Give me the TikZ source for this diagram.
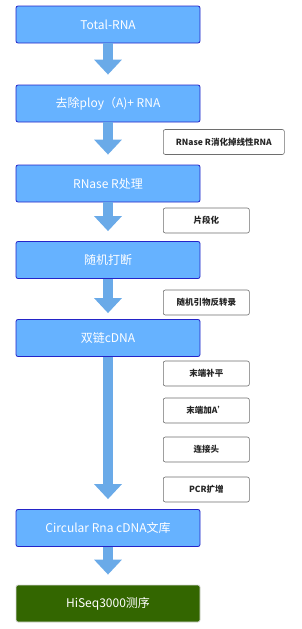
\documentclass[tikz,border=0pt]{standalone}
\usepackage{fontspec}
\setmainfont{Noto Sans CJK SC}
\usetikzlibrary{positioning, arrows.meta}
\definecolor{stepBlue}{HTML}{66B2FF}
\definecolor{stepEdge}{HTML}{2424C8}
\definecolor{flowBlue}{HTML}{6AAAE8}
\definecolor{seqGreen}{HTML}{336600}
\definecolor{noteGray}{HTML}{6E6E6E}

\begin{document}
\begin{tikzpicture}[x=1pt, y=-1pt,
  stage/.style={draw=stepEdge, line width=0.8pt, fill=stepBlue, rounded corners=2pt,
                minimum width=184pt, minimum height=37pt, text=white, font=\fontsize{12}{14}\selectfont},
  final/.style={stage, draw=black!15, fill=seqGreen},
  note/.style={draw=noteGray, line width=0.6pt, fill=white, rounded corners=2pt, anchor=west,
               minimum width=86pt, minimum height=25pt, text=black!85,
               font=\bfseries\fontsize{8.5}{10}\selectfont},
  flow/.style={draw=flowBlue, line width=10pt, shorten >=10pt,
               -{Triangle[width=27pt, length=15pt]}},
]
  \useasboundingbox (0,0) rectangle (302,629);

  % main stages
  \node[stage] (total)  at (108,24.5) {Total-RNA};
  \node[stage] (polya)  at (108,103.5) {去除ploy（A)+ RNA};
  \node[stage] (rnase)  at (108,183.5) {RNase R处理};
  \node[stage] (shear)  at (108,260) {随机打断};
  \node[stage] (dsdna)  at (108,338) {双链cDNA};
  \node[stage] (lib)    at (108,528) {Circular Rna cDNA文库};
  \node[final] (seq)    at (108,603.5) {HiSeq3000测序};

  % side notes
  \node[note, minimum width=121pt] (n1) at (163,142) {RNase R消化掉线性RNA};
  \node[note] (n2) at (163,220.5) {片段化};
  \node[note] (n3) at (163,302.5) {随机引物反转录};
  \node[note] (n4) at (163,373.5) {末端补平};
  \node[note] (n5) at (163,410.5) {末端加A'};
  \node[note] (n6) at (163,449.5) {连接头};
  \node[note] (n7) at (163,489.5) {PCR扩增};

  % flow arrows
  \draw[flow] (total) -- (polya);
  \draw[flow] (polya) -- (rnase);
  \draw[flow] (rnase) -- (shear);
  \draw[flow, shorten >=6pt] (shear) -- (dsdna);
  \draw[flow] (dsdna) -- (lib);
  \draw[flow] (lib) -- (seq);
\end{tikzpicture}
\end{document}
